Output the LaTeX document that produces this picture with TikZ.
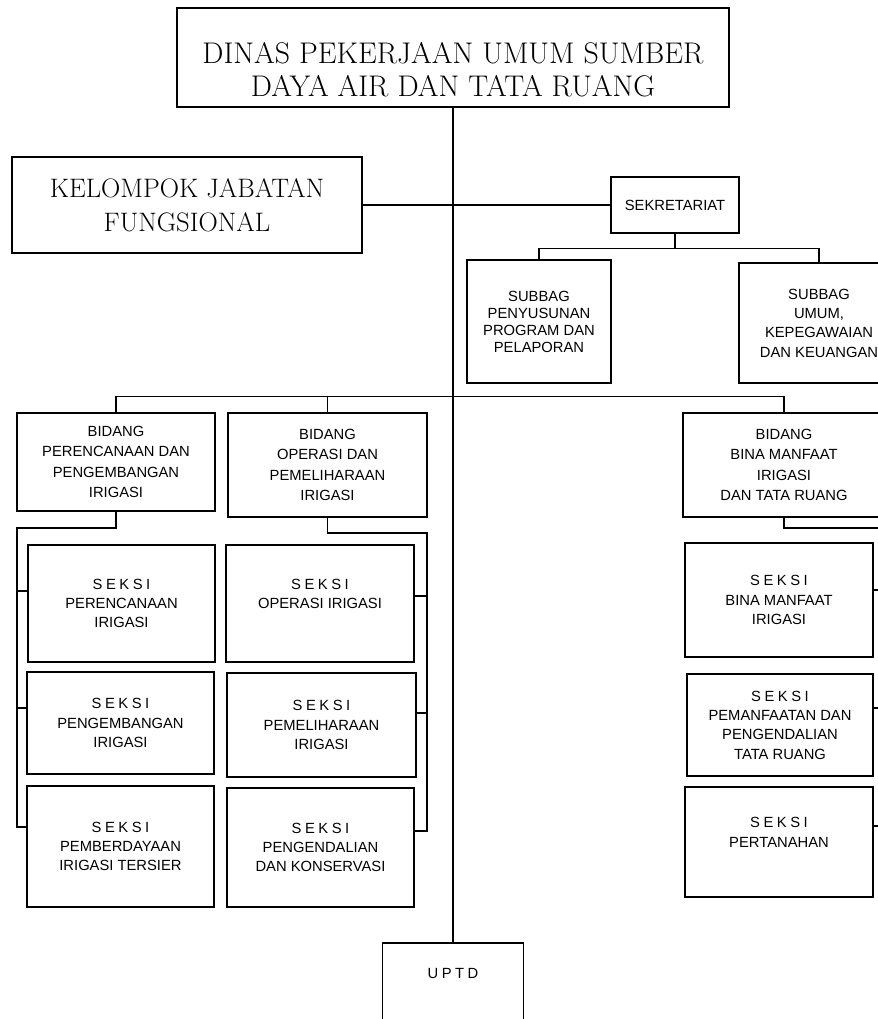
\documentclass[tikz,border=0pt]{standalone}
\usepackage{fontspec}
\setsansfont{Liberation Sans}
\usepackage{tikz}
\usetikzlibrary{calc}

\newcommand{\seksi}{S\kern2pt E\kern2pt K\kern2pt S\kern2pt I}
\newcommand{\uptd}{U\kern2pt P\kern2pt T\kern2pt D}

\begin{document}
\begin{tikzpicture}[line width=0.75pt,
    box/.style={draw, align=center, inner sep=0pt, font=\sffamily\fontsize{8.4}{11}\selectfont},
    sz/.style 2 args={minimum width=#1cm, minimum height=#2cm},
    big/.style={box, font=\rmfamily\fontsize{17}{18.5}\selectfont}]
    \useasboundingbox (0,0) rectangle (17.56,-20.38);

    % top level
    \node[big, sz={11.04}{1.98}, line width=0.9pt] (dinas) at (9.06,-1.15)
        {\rule{0pt}{0.9cm}DINAS PEKERJAAN UMUM SUMBER\\DAYA AIR DAN TATA RUANG};
    \node[big, sz={7.0}{1.92}, line width=1.5pt, font=\rmfamily\fontsize{15.2}{19.5}\selectfont] (kjf) at (3.74,-4.1)
        {KELOMPOK JABATAN\\FUNGSIONAL};
    \node[box, sz={2.56}{1.12}] (sek) at (13.5,-4.1) {SEKRETARIAT};
    \node[box, sz={2.88}{2.46}, font=\sffamily\fontsize{8.4}{9.7}\selectfont] (sbprog) at (10.78,-6.43)
        {SUBBAG\\PENYUSUNAN\\PROGRAM DAN\\PELAPORAN};
    \node[box, sz={3.2}{2.4}] (sbumum) at (16.38,-6.46)
        {SUBBAG\\UMUM,\\KEPEGAWAIAN\\DAN KEUANGAN};

    % bidang
    \node[box, sz={3.96}{1.96}, font=\sffamily\fontsize{8.4}{11.6}\selectfont] (bren) at (2.32,-9.24)
        {BIDANG\\PERENCANAAN DAN\\PENGEMBANGAN\\IRIGASI};
    \node[box, sz={3.98}{2.08}, font=\sffamily\fontsize{8.4}{11.6}\selectfont] (bop) at (6.55,-9.3)
        {BIDANG\\OPERASI DAN\\PEMELIHARAAN\\IRIGASI};
    \node[box, sz={4.04}{2.08}, font=\sffamily\fontsize{8.4}{11.6}\selectfont] (bbina) at (15.68,-9.3)
        {BIDANG\\BINA MANFAAT\\IRIGASI\\DAN TATA RUANG};

    % seksi
    \node[box, sz={3.74}{2.34}] (sren1) at (2.43,-12.07) {\seksi\\PERENCANAAN\\IRIGASI};
    \node[box, sz={3.74}{2.04}] (sren2) at (2.41,-14.46) {\seksi\\PENGEMBANGAN\\IRIGASI};
    \node[box, sz={3.74}{2.42}] (sren3) at (2.41,-16.93) {\seksi\\PEMBERDAYAAN\\IRIGASI TERSIER};
    \node[box, sz={3.76}{2.34}] (sop1) at (6.4,-12.07) {\seksi\\OPERASI IRIGASI\\~};
    \node[box, sz={3.78}{2.08}] (sop2) at (6.43,-14.5) {\seksi\\PEMELIHARAAN\\IRIGASI};
    \node[box, sz={3.74}{2.38}] (sop3) at (6.41,-16.95) {\seksi\\PENGENDALIAN\\DAN KONSERVASI};
    \node[box, sz={3.76}{2.28}] (sbina1) at (15.58,-12.0) {\seksi\\BINA MANFAAT\\IRIGASI};
    \node[box, sz={3.72}{2.04}] (sbina2) at (15.6,-14.5) {\seksi\\PEMANFAATAN DAN\\PENGENDALIAN\\TATA RUANG};
    \node[box, sz={3.76}{2.2}] (sbina3) at (15.58,-16.84) {\seksi\\PERTANAHAN\\~};

    \node[box, sz={2.82}{1.6}] (uptd) at (9.06,-19.66) {\uptd\\~};

    \coordinate (renbus) at (0.34,-10.56);
    \coordinate (opbus) at (8.54,-10.66);
    \coordinate (binabus) at (17.8,-10.56);

    % lines
    \draw (dinas.south) -- (uptd.north);
    \draw (kjf.east) -- (sek.west);
    \draw (sek.south) -- ++(0,-0.3) -| (sbprog.north);
    \draw (sek.south) -- ++(0,-0.3) -| (sbumum.north);
    \draw (bren.north) -- ++(0,0.32) -| (bbina.north);
    \draw (bop.north) -- ++(0,0.32);

    \draw (bren.south) |- (renbus) |- ([yshift=0.39cm]sren3.west);
    \draw ([yshift=0.25cm]sren1.west) -| (renbus);
    \draw ([yshift=0.3cm]sren2.west) -| (renbus);

    \draw (bop.south) |- (opbus) |- ([yshift=0.33cm]sop3.east);
    \draw ([yshift=0.15cm]sop1.east) -| (opbus);
    \draw ([yshift=0.24cm]sop2.east) -| (opbus);

    \draw (bbina.south) |- (binabus) -- ++(0,-6.0);
    \draw ([yshift=0.2cm]sbina1.east) -| (binabus);
    \draw ([yshift=0.34cm]sbina2.east) -| (binabus);
    \draw ([yshift=0.32cm]sbina3.east) -| (binabus);
\end{tikzpicture}
\end{document}
